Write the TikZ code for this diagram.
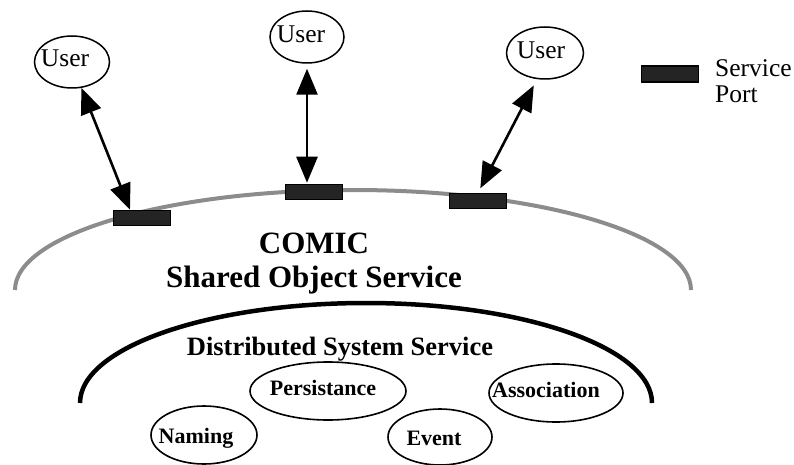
\documentclass[tikz,border=0pt]{standalone}
\usepackage{fontspec}
\setmainfont{Liberation Serif}
\usetikzlibrary{arrows.meta,calc,shapes.geometric}

\tikzset{
  shell/.style={line width=4pt, draw=black!45},
  core/.style={line width=4.5pt, draw=black},
  userell/.style={ellipse, draw, line width=1.5pt, minimum width=#1, minimum height=52pt, inner sep=0pt},
  usertxt/.style={anchor=base, inner sep=0pt, font=\fontsize{25.5}{29}\selectfont},
  port/.style={rectangle, draw=black, line width=1.5pt, fill=black!86, minimum width=57pt, minimum height=15pt, inner sep=0pt},
  svcell/.style={ellipse, draw, line width=1.6pt, inner sep=0pt},
  svctxt/.style={anchor=base, inner sep=0pt, font=\bfseries\fontsize{22}{26}\selectfont},
  link/.style={line width=2.6pt, {Triangle[length=26pt,width=21pt]}-{Triangle[length=26pt,width=21pt]}},
}

\begin{document}
\begin{tikzpicture}[x=1pt, y=-1pt]
\useasboundingbox (0,0) rectangle (794,465);

% outer shared-object shell and inner distributed-system shell
\draw[shell] (15,290) arc[start angle=180, end angle=0, x radius=338pt, y radius=100pt];
\draw[core] (80,403) arc[start angle=180, end angle=0, x radius=286pt, y radius=100pt];

% users
\node[userell=75pt] (u1) at (72,62) {};
\node[usertxt] (t1) at (65,67) {User};
\node[userell=74pt] (u2) at (307,37) {};
\node[usertxt] (t2) at (301,43) {User};
\node[userell=77pt] (u3) at (545,53) {};
\node[usertxt] (t3) at (541,59) {User};

% service ports on the shell
\node[port] (p1) at (142,218) {};
\node[port] (p2) at (314,192) {};
\node[port] (p3) at (478,201) {};

% user <-> port links
\coordinate (e1) at ($(p1.north)+(-12,0)$);
\coordinate (e2) at ($(p2.north)+(-7,0)$);
\draw[link] (u1.-70) -- (e1);
\draw[link, shorten <=5pt, shorten >=1pt] (u2.south) -- (e2);
\draw[link, shorten <=7pt, shorten >=5pt] (u3.-107) -- (p3.north);

% legend
\node[port, minimum height=16pt] (lp) at (670,74) {};
\node[usertxt, anchor=base west] (l1) at (715,77) {Service};
\node[usertxt, anchor=base west] (l2) at (715,103) {Port};

% titles
\node[anchor=base, inner sep=0pt, font=\bfseries\fontsize{31}{35}\selectfont] (c1) at (314,253) {COMIC};
\node[anchor=base, inner sep=0pt, font=\bfseries\fontsize{31}{35}\selectfont] (c2) at (314,287) {Shared Object Service};
\node[anchor=base, inner sep=0pt, font=\bfseries\fontsize{26.5}{30}\selectfont] (d1) at (340,355) {Distributed System Service};

% distributed system services
\node[svcell, minimum width=156pt, minimum height=58pt] (pe) at (328,391) {};
\node[svctxt] (tpe) at (323,395) {Persistance};
\node[svcell, minimum width=106pt, minimum height=58pt] (na) at (204,435) {};
\node[svctxt] (tna) at (196,443) {Naming};
\node[svcell, minimum width=104pt, minimum height=56pt] (ev) at (440,437) {};
\node[svctxt] (tev) at (434,445) {Event};
\node[svcell, minimum width=134pt, minimum height=58pt] (as) at (556,393) {};
\node[svctxt] (tas) at (546,397) {Association};
\end{tikzpicture}
\end{document}
